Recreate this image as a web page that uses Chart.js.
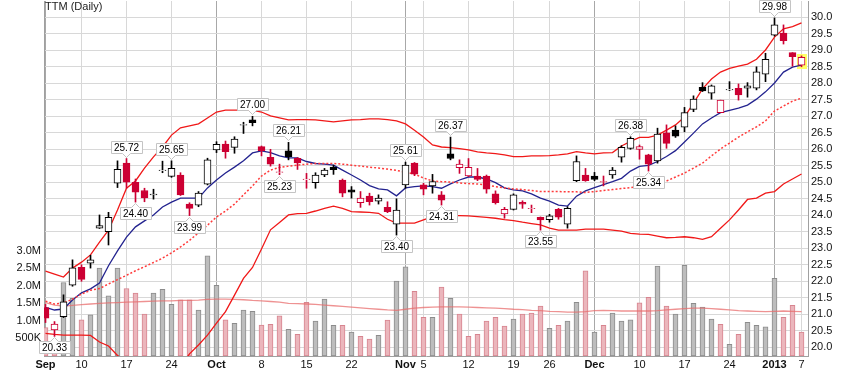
<!DOCTYPE html>
<html lang="en">
<head>
<meta charset="UTF-8">
<title>TTM (Daily)</title>
<script src="https://cdn.jsdelivr.net/npm/chart.js@4.4.3/dist/chart.umd.min.js"></script>
<style>
  body { margin: 0; background: #fff; }
</style>
</head>
<body>
<canvas id="chart" width="861" height="371"></canvas>
<script>
// trading days, Sep 4 2012 .. Jan 7 2013
const dates = [
  'Sep 4','Sep 5','Sep 6','Sep 7','Sep 10','Sep 11','Sep 12','Sep 13','Sep 14',
  'Sep 17','Sep 18','Sep 19','Sep 20','Sep 21','Sep 24','Sep 25','Sep 26','Sep 27','Sep 28',
  'Oct 1','Oct 2','Oct 3','Oct 4','Oct 5','Oct 8','Oct 9','Oct 10','Oct 11','Oct 12',
  'Oct 15','Oct 16','Oct 17','Oct 18','Oct 19','Oct 22','Oct 23','Oct 24','Oct 25','Oct 26','Oct 31',
  'Nov 1','Nov 2','Nov 5','Nov 6','Nov 7','Nov 8','Nov 9','Nov 12','Nov 13','Nov 14','Nov 15','Nov 16',
  'Nov 19','Nov 20','Nov 21','Nov 23','Nov 26','Nov 27','Nov 28','Nov 29','Nov 30',
  'Dec 3','Dec 4','Dec 5','Dec 6','Dec 7','Dec 10','Dec 11','Dec 12','Dec 13','Dec 14',
  'Dec 17','Dec 18','Dec 19','Dec 20','Dec 21','Dec 24','Dec 26','Dec 27','Dec 28','Dec 31',
  'Jan 2','Jan 3','Jan 4','Jan 7'
];

const priorClose = 21.10;
const opens = [
  21.20,20.53,20.93,21.88,22.42,22.55,23.61,23.50,24.97,25.58,
  25.00,24.75,24.62,25.35,25.18,25.22,24.34,24.31,24.94,25.98,
  26.16,26.06,26.73,26.89,26.08,25.76,25.30,25.95,25.73,25.08,
  24.99,25.22,25.46,25.07,24.77,24.38,24.58,24.43,24.24,23.73,
  24.92,25.58,24.92,24.89,24.62,25.86,25.44,25.19,25.19,25.19,
  24.65,24.04,24.18,24.39,24.20,23.94,23.87,24.18,23.73,25.05,
  25.22,25.19,25.00,25.22,25.76,26.03,26.00,25.83,25.65,26.50,
  26.58,26.67,27.21,27.88,27.70,27.11,27.80,27.85,27.85,27.85,
  28.28,29.46,29.52,28.93,28.55
];
const highs = [
  21.30,20.78,21.59,22.65,22.50,22.79,24.01,24.09,25.65,25.72,
  25.10,24.82,24.79,25.64,25.65,25.29,24.38,24.72,25.73,26.23,
  26.25,26.38,26.82,27.00,26.10,26.00,25.55,26.21,25.75,25.27,
  25.29,25.42,25.52,25.10,24.87,24.72,24.67,24.62,24.41,24.50,
  25.61,25.60,24.97,25.24,24.72,26.37,25.68,25.72,25.42,25.22,
  24.74,24.24,24.65,24.44,24.31,23.95,24.03,24.21,24.26,25.80,
  25.42,25.30,25.19,25.45,26.11,26.38,26.13,25.85,26.64,26.74,
  26.71,27.27,27.62,28.02,27.95,27.49,28.05,27.98,28.02,28.50,
  28.91,29.98,29.77,28.93,28.83
];
const lows = [
  20.75,20.33,20.90,21.85,22.00,22.40,23.60,23.10,24.84,24.82,
  24.40,24.41,24.49,25.29,25.15,24.60,23.99,24.26,24.92,25.90,
  25.73,25.88,26.48,26.71,25.80,25.49,25.23,25.68,25.39,24.82,
  24.82,25.17,25.24,24.56,24.52,24.24,24.31,24.34,24.08,23.40,
  24.82,25.20,24.62,24.67,24.31,25.68,25.27,25.17,25.05,24.67,
  24.34,23.91,24.16,24.21,24.08,23.55,23.79,23.88,23.61,25.02,
  25.03,25.05,24.89,25.12,25.61,26.00,25.70,25.34,25.58,26.03,
  26.36,26.53,27.14,27.75,27.52,27.11,27.78,27.49,27.58,27.80,
  28.05,29.43,29.19,28.52,28.50
];
const closes = [
  20.88,20.70,21.38,22.41,22.06,22.65,23.69,23.94,25.39,25.00,
  24.70,24.53,24.64,25.37,25.42,24.62,24.21,24.67,25.68,26.15,
  25.93,26.31,26.75,26.81,25.96,25.55,25.32,25.78,25.59,25.10,
  25.22,25.37,25.38,24.67,24.70,24.52,24.41,24.52,24.11,24.16,
  25.52,25.25,24.79,25.02,24.46,25.72,25.55,25.45,25.09,24.79,
  24.38,24.18,24.62,24.34,24.21,23.86,23.98,23.94,24.21,25.63,
  25.05,25.09,25.02,25.37,26.06,26.33,26.08,25.55,26.46,26.18,
  26.40,27.11,27.52,27.77,27.92,27.49,27.82,27.65,27.92,28.35,
  28.73,29.77,29.29,28.81,28.79
];
// volume, millions of shares
const volumeM = [
  0.81,0.30,2.09,1.64,1.03,1.17,2.50,1.71,2.50,1.92,
  1.79,1.19,1.79,1.90,1.47,1.60,1.60,1.31,2.85,2.01,
  1.03,0.93,1.31,1.27,0.88,0.90,1.14,0.76,0.62,1.53,
  0.99,1.62,0.87,0.87,0.68,0.56,0.48,0.59,1.02,2.13,
  2.54,1.84,1.10,1.10,1.96,1.64,1.19,0.56,0.62,0.99,
  1.10,0.85,1.05,1.19,1.22,1.42,0.79,0.87,0.99,1.53,
  2.42,0.68,0.87,1.22,0.99,1.03,1.51,1.67,2.56,1.42,
  1.19,2.58,1.50,1.39,1.05,0.90,0.33,0.62,0.96,0.87,
  0.83,2.21,1.10,1.44,0.68
];
const volumeAvgM = [
  1.52,1.45,1.42,1.44,1.46,1.48,1.50,1.51,1.52,1.53,
  1.54,1.55,1.56,1.57,1.57,1.58,1.58,1.59,1.61,1.62,
  1.62,1.61,1.60,1.58,1.57,1.55,1.53,1.50,1.49,1.48,
  1.47,1.45,1.43,1.41,1.39,1.37,1.35,1.33,1.31,1.30,
  1.33,1.36,1.38,1.39,1.40,1.40,1.40,1.39,1.38,1.37,
  1.36,1.35,1.33,1.32,1.30,1.29,1.27,1.26,1.25,1.25,
  1.26,1.29,1.30,1.29,1.28,1.28,1.28,1.28,1.29,1.31,
  1.33,1.35,1.36,1.36,1.35,1.33,1.31,1.29,1.28,1.27,
  1.26,1.27,1.28,1.27,1.26
];
const bbUpper = [
  22.31,22.22,22.13,22.40,22.58,22.80,23.19,23.55,24.16,24.82,
  25.04,25.43,25.77,26.07,26.43,26.65,26.71,26.77,26.95,27.13,
  27.19,27.19,27.19,27.19,27.13,27.01,26.95,26.89,26.90,26.90,
  26.89,26.86,26.83,26.86,26.89,26.90,26.92,26.92,26.90,26.86,
  26.77,26.58,26.37,26.13,26.07,26.05,26.02,25.98,25.92,25.89,
  25.87,25.83,25.78,25.78,25.80,25.80,25.81,25.83,25.86,25.93,
  25.89,25.86,25.89,25.90,26.10,26.24,26.36,26.36,26.43,26.58,
  26.74,26.98,27.40,27.83,28.13,28.34,28.45,28.52,28.58,28.73,
  29.01,29.40,29.65,29.72,29.83
];
const bbMiddle = [
  21.40,21.31,21.34,21.46,21.61,21.73,21.78,21.92,22.05,22.18,
  22.32,22.44,22.57,22.70,22.86,23.04,23.24,23.47,23.70,23.95,
  24.13,24.34,24.62,24.89,25.19,25.37,25.45,25.49,25.52,25.55,
  25.57,25.57,25.57,25.55,25.52,25.49,25.46,25.43,25.40,25.36,
  25.31,25.25,25.13,25.04,25.02,25.01,24.98,24.96,24.95,24.92,
  24.87,24.83,24.80,24.78,24.75,24.72,24.72,24.72,24.71,24.71,
  24.69,24.72,24.75,24.78,24.81,24.84,24.86,24.89,24.95,25.04,
  25.16,25.28,25.43,25.58,25.80,26.01,26.19,26.37,26.53,26.68,
  26.86,27.16,27.31,27.46,27.55
];
const bbLower = [
  20.42,20.39,20.37,20.37,20.37,20.36,20.16,20.04,19.75,19.55,
  19.45,19.38,19.33,19.30,19.30,19.42,19.80,20.07,20.37,20.73,
  21.08,21.58,22.09,22.42,22.98,23.56,23.78,24.01,24.05,24.06,
  24.13,24.21,24.28,24.21,24.11,24.10,24.09,24.06,23.88,23.76,
  23.76,23.76,23.86,23.96,23.99,23.99,23.99,23.98,23.96,23.94,
  23.91,23.87,23.84,23.79,23.75,23.71,23.61,23.55,23.55,23.55,
  23.58,23.58,23.58,23.55,23.52,23.45,23.43,23.42,23.37,23.32,
  23.33,23.35,23.32,23.27,23.35,23.61,23.86,24.16,24.48,24.52,
  24.67,24.72,24.95,25.10,25.25
];
const shortAvg = [
  21.21,21.13,21.16,21.43,21.65,21.77,21.95,22.47,22.92,23.34,
  23.65,23.83,24.01,24.25,24.40,24.52,24.52,24.52,24.83,25.07,
  25.28,25.46,25.65,25.89,25.95,25.90,25.80,25.74,25.74,25.63,
  25.57,25.55,25.52,25.37,25.22,25.07,24.90,24.80,24.77,24.59,
  24.83,24.87,24.89,24.87,24.82,24.95,25.07,25.16,25.16,25.10,
  24.99,24.83,24.77,24.74,24.65,24.52,24.43,24.31,24.28,24.58,
  24.74,24.84,24.93,25.02,25.12,25.34,25.48,25.51,25.63,25.78,
  25.96,26.22,26.49,26.77,26.95,27.11,27.18,27.25,27.34,27.52,
  27.74,28.01,28.34,28.49,28.55
];

// x axis: first trading day of each week
const tickIdx  = [0, 4, 9, 14, 19, 24, 29, 34, 40, 42, 47, 52, 56, 61, 66, 71, 76, 81, 84];
const tickText = ['Sep','10','17','24','Oct','8','15','22','Nov','5','12','19','26','Dec','10','17','24','2013','7'];
const monthIdx = [0, 19, 40, 61, 81];
const priceTicks = [20.0,20.5,21.0,21.5,22.0,22.5,23.0,23.5,24.0,24.5,25.0,25.5,26.0,26.5,27.0,27.5,28.0,28.5,29.0,29.5,30.0];
const volTicks = [0.5, 1.0, 1.5, 2.0, 2.5, 3.0];

// marked highs / lows
const calloutIdx  = [1, 9, 10, 14, 16, 23, 26, 27, 39, 40, 44, 45, 55, 65, 67, 81];
const calloutVal  = [20.33, 25.72, 24.40, 25.65, 23.99, 27.00, 25.23, 26.21, 23.40, 25.61, 24.31, 26.37, 23.55, 26.38, 25.34, 29.98];
const calloutHigh = [false, true, false, true, false, true, false, true, false, true, false, true, false, true, false, true];

const RED = '#cc0033', BLACK = '#000000';
const FONT = '"Liberation Sans", Arial, sans-serif';

const upDay = closes.map((c, i) => c >= (i ? closes[i - 1] : priorClose));
const candleColor = upDay.map(u => u ? BLACK : RED);
const filled = closes.map((c, i) => c < opens[i]);

const pts = arr => arr.map((v, i) => ({ x: i, y: v }));

// drop the label overhang padding so the plot fills the frame
const noPad = s => { s.paddingTop = 0; s.paddingBottom = 0; s.paddingLeft = 0; s.paddingRight = 0; };

const extras = {
  id: 'extras',
  beforeDatasetsDraw(chart) {
    // yellow marker behind the latest bar
    const { ctx, scales: { x, y } } = chart;
    const i = closes.length - 1;
    const px = x.getPixelForValue(i);
    const top = Math.round(y.getPixelForValue(highs[i])) - 2;
    const bot = Math.round(y.getPixelForValue(lows[i])) + 2;
    ctx.save();
    ctx.fillStyle = '#ffff66';
    ctx.fillRect(Math.round(px) - 5, top, 10, bot - top);
    ctx.restore();
  },
  afterDatasetsDraw(chart) {
    const { ctx, scales: { x, y } } = chart;
    ctx.save();
    ctx.font = '11px ' + FONT;
    ctx.fillStyle = '#222';
    ctx.textAlign = 'left';
    ctx.textBaseline = 'alphabetic';
    ctx.fillText('TTM (Daily)', 45, 10);

    ctx.font = '10px ' + FONT;
    calloutIdx.forEach((idx, k) => {
      const text = calloutVal[k].toFixed(2);
      const px = Math.floor(x.getPixelForValue(idx)) + 0.5;
      const py = y.getPixelForValue(calloutVal[k]);
      const w = Math.round(ctx.measureText(text).width) + 6, h = 12;
      const left = Math.round(px - w / 2) + 0.5;
      ctx.beginPath();
      let top;
      if (calloutHigh[k]) {
        const tip = Math.round(py) - 1.5;
        top = tip - 4 - h;
        ctx.moveTo(left, top);
        ctx.lineTo(left + w, top);
        ctx.lineTo(left + w, top + h);
        ctx.lineTo(px + 4, top + h);
        ctx.lineTo(px, tip);
        ctx.lineTo(px - 4, top + h);
        ctx.lineTo(left, top + h);
      } else {
        const tip = Math.round(py) + 1.5;
        top = tip + 4;
        ctx.moveTo(left, top);
        ctx.lineTo(px - 4, top);
        ctx.lineTo(px, tip);
        ctx.lineTo(px + 4, top);
        ctx.lineTo(left + w, top);
        ctx.lineTo(left + w, top + h);
        ctx.lineTo(left, top + h);
      }
      ctx.closePath();
      ctx.fillStyle = '#fff';
      ctx.fill();
      ctx.strokeStyle = '#c4c4c4';
      ctx.lineWidth = 1;
      ctx.stroke();
      ctx.fillStyle = '#000';
      ctx.textAlign = 'center';
      ctx.textBaseline = 'middle';
      ctx.fillText(text, px, top + h / 2 + 0.5);
    });
    ctx.restore();
  }
};

new Chart(document.getElementById('chart'), {
  data: {
    datasets: [
      {
        type: 'line', label: 'BB upper', data: pts(bbUpper), yAxisID: 'y',
        borderColor: '#f01818', borderWidth: 1.3, pointRadius: 0, order: 3
      },
      {
        type: 'line', label: 'BB lower', data: pts(bbLower), yAxisID: 'y',
        borderColor: '#f01818', borderWidth: 1.3, pointRadius: 0, order: 3
      },
      {
        type: 'line', label: 'BB middle', data: pts(bbMiddle), yAxisID: 'y',
        borderColor: '#ff3b3b', borderWidth: 1.5, borderDash: [2, 2], pointRadius: 0, order: 3
      },
      {
        type: 'line', label: 'MA', data: pts(shortAvg), yAxisID: 'y',
        borderColor: '#23238f', borderWidth: 1.3, pointRadius: 0, order: 3
      },
      {
        type: 'line', label: 'Volume MA', data: pts(volumeAvgM), yAxisID: 'vol',
        borderColor: 'rgba(232,110,110,0.75)', borderWidth: 1.3, pointRadius: 0, order: 4
      },
      {
        type: 'bar', label: 'Volume', data: pts(volumeM), yAxisID: 'vol',
        backgroundColor: upDay.map(u => u ? '#bdbdbd' : '#ebb6bc'),
        borderColor: upDay.map(u => u ? '#8c8c8c' : '#d7848f'),
        borderWidth: 1, borderSkipped: false, barThickness: 5, grouped: false, order: 6
      },
      {
        type: 'bar', label: 'Range',
        data: lows.map((l, i) => ({ x: i, y: [l, highs[i]] })), yAxisID: 'y',
        backgroundColor: candleColor, borderWidth: 0, barThickness: 1, grouped: false, order: 2
      },
      {
        type: 'bar', label: 'Body',
        data: opens.map((o, i) => ({ x: i, y: [Math.min(o, closes[i]), Math.max(o, closes[i])] })), yAxisID: 'y',
        backgroundColor: candleColor.map((c, i) => filled[i] ? c : '#ffffff'),
        borderColor: candleColor, borderWidth: 1, borderSkipped: false,
        barThickness: 7, grouped: false, order: 1
      }
    ]
  },
  options: {
    responsive: false,
    animation: false,
    layout: { padding: { top: 1, left: 0, right: 0, bottom: 0 } },
    plugins: { legend: { display: false }, tooltip: { enabled: false } },
    scales: {
      x: {
        type: 'linear',
        offset: false,
        min: -0.1667,
        max: 84.722,
        afterBuildTicks: s => { s.ticks = tickIdx.map(v => ({ value: v })); },
        afterFit: s => { s.height = 15; noPad(s); },
        ticks: {
          autoSkip: false, maxRotation: 0, padding: 2, color: '#111',
          callback: v => tickText[tickIdx.indexOf(v)],
          font: c => ({
            family: FONT, size: 11,
            weight: c.tick && monthIdx.includes(c.tick.value) ? 'bold' : 'normal'
          })
        },
        grid: {
          offset: false,
          drawTicks: false,
          color: c => c.tick && monthIdx.includes(c.tick.value) ? '#a8a8a8' : '#d8d8d8'
        },
        border: { color: '#a0a0a0' }
      },
      y: {
        position: 'right',
        min: 19.736,
        max: 30.494,
        afterBuildTicks: s => { s.ticks = priceTicks.map(v => ({ value: v })); },
        afterFit: s => { s.width = 53; noPad(s); },
        ticks: { padding: 3, color: '#111', font: { family: FONT, size: 11 }, callback: v => v.toFixed(1) },
        grid: { drawTicks: false, color: '#d8d8d8' },
        border: { color: '#a0a0a0' }
      },
      vol: {
        position: 'left',
        min: 0,
        max: 10.1,
        afterBuildTicks: s => { s.ticks = volTicks.map(v => ({ value: v })); },
        afterFit: s => { s.width = 44; noPad(s); },
        ticks: {
          padding: 3, color: '#111', font: { family: FONT, size: 11 },
          callback: v => v < 1 ? Math.round(v * 1000) + 'K' : v.toFixed(1) + 'M'
        },
        grid: { display: false, drawTicks: false },
        border: { color: '#a0a0a0' }
      }
    }
  },
  plugins: [extras]
});
</script>
</body>
</html>
